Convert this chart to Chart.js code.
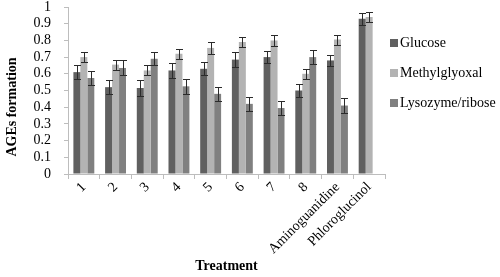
<!DOCTYPE html>
<html>
<head>
<meta charset="utf-8">
<script src="https://cdn.jsdelivr.net/npm/chart.js@4.4.0/dist/chart.umd.min.js"></script>
<style>
  html, body { margin: 0; padding: 0; background: #fff; }
  #wrap { width: 500px; height: 277px; }
</style>
</head>
<body>
<div id="wrap"><canvas id="ages-chart"></canvas></div>
<script>
// treatments on the x axis
const treatments = ['1', '2', '3', '4', '5', '6', '7', '8', 'Aminoguanidine', 'Phloroglucinol'];

// mean AGEs formation per assay
const glucose      = [0.61, 0.52, 0.515, 0.62, 0.63, 0.685, 0.70, 0.50, 0.68, 0.93];
const methylglyox  = [0.70, 0.655, 0.62, 0.72, 0.755, 0.79, 0.80, 0.60, 0.805, 0.94];
const lysozyme     = [0.575, 0.635, 0.69, 0.525, 0.48, 0.42, 0.395, 0.70, 0.41, null];

// error (+/-) per bar
const glucoseErr     = [0.04, 0.04, 0.045, 0.045, 0.04, 0.045, 0.035, 0.04, 0.035, 0.035];
const methylglyoxErr = [0.03, 0.03, 0.03, 0.03, 0.035, 0.03, 0.035, 0.03, 0.03, 0.03];
const lysozymeErr    = [0.04, 0.045, 0.04, 0.045, 0.04, 0.04, 0.04, 0.04, 0.045, null];

const yTitle = 'AGEs formation';
const xTitle = 'Treatment';

const serif = '"Liberation Serif", "Times New Roman", serif';

// draws the error whiskers on top of each bar
const errorBars = {
  id: 'errorBars',
  afterDatasetsDraw(chart) {
    const ctx = chart.ctx;
    const y = chart.scales.y;
    ctx.save();
    ctx.strokeStyle = '#2b2b2b';
    ctx.lineWidth = 1;
    chart.data.datasets.forEach((ds, di) => {
      const meta = chart.getDatasetMeta(di);
      meta.data.forEach((bar, i) => {
        const v = ds.data[i], e = ds.errors[i];
        if (v == null || e == null) return;
        const top = Math.round(y.getPixelForValue(v + e)) + 0.5;
        const bot = Math.round(y.getPixelForValue(v - e)) + 0.5;
        const x = Math.round(bar.x) + 0.5;
        ctx.beginPath();
        ctx.moveTo(x, top); ctx.lineTo(x, bot);
        ctx.moveTo(x - 3.5, top); ctx.lineTo(x + 3.5, top);
        ctx.moveTo(x - 3.5, bot); ctx.lineTo(x + 3.5, bot);
        ctx.stroke();
      });
    });
    ctx.restore();
  }
};

// legend in the right margin + the y title, which excel puts a bit low
const sideLegend = {
  id: 'sideLegend',
  afterDraw(chart) {
    const ctx = chart.ctx;
    const x0 = chart.chartArea.right + 5;
    ctx.save();
    ctx.font = '14px ' + serif;
    ctx.textBaseline = 'middle';
    chart.data.datasets.forEach((ds, i) => {
      const cy = 43 + i * 30;
      ctx.fillStyle = ds.backgroundColor;
      ctx.fillRect(x0, cy - 4, 8, 8);
      ctx.fillStyle = '#000';
      ctx.fillText(ds.label, x0 + 10, cy);
    });

    ctx.translate(12, 107);
    ctx.rotate(-Math.PI / 2);
    ctx.font = 'bold 14px ' + serif;
    ctx.textAlign = 'center';
    ctx.fillStyle = '#000';
    ctx.fillText(yTitle, 0, 0);
    ctx.restore();
  }
};

new Chart(document.getElementById('ages-chart'), {
  type: 'bar',
  data: {
    labels: treatments,
    datasets: [
      { label: 'Glucose', data: glucose, errors: glucoseErr, backgroundColor: '#606060' },
      { label: 'Methylglyoxal', data: methylglyox, errors: methylglyoxErr, backgroundColor: '#b3b3b3' },
      { label: 'Lysozyme/ribose', data: lysozyme, errors: lysozymeErr, backgroundColor: '#808080' }
    ]
  },
  options: {
    responsive: true,
    maintainAspectRatio: false,
    animation: false,
    layout: { padding: { top: 2, right: 115, left: 2, bottom: 2 } },
    datasets: {
      bar: { categoryPercentage: 0.66, barPercentage: 1.0 }
    },
    plugins: {
      legend: { display: false },
      tooltip: { enabled: false }
    },
    scales: {
      x: {
        afterFit(scale) { scale.height = 101; },
        grid: { drawOnChartArea: false, tickLength: 5, color: '#bdbdbd' },
        border: { color: '#bdbdbd' },
        ticks: {
          color: '#000',
          maxRotation: 45,
          minRotation: 45,
          autoSkip: false,
          padding: 0,
          font: { family: serif, size: 14 }
        },
        title: {
          display: true,
          text: xTitle,
          color: '#000',
          font: { family: serif, size: 14, weight: 'bold' },
          padding: { top: 0, bottom: 0 }
        }
      },
      y: {
        min: 0,
        max: 1,
        afterFit(scale) {
          scale.width = 66;
          scale.paddingTop = 7;
          scale.paddingBottom = 7;
        },
        grid: { drawOnChartArea: false, tickLength: 4, color: '#bdbdbd' },
        border: { color: '#bdbdbd' },
        ticks: {
          stepSize: 0.1,
          autoSkip: false,
          color: '#000',
          padding: 13,
          font: { family: serif, size: 14 },
          callback: (v) => String(Math.round(v * 10) / 10)
        },
        title: { display: false }
      }
    }
  },
  plugins: [errorBars, sideLegend]
});
</script>
</body>
</html>
